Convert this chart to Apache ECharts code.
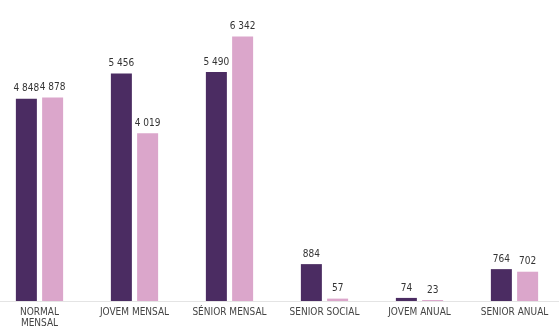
<!DOCTYPE html>
<html><head><meta charset="utf-8">
<script src="https://cdn.jsdelivr.net/npm/echarts@6/dist/echarts.min.js"></script>
<style>html,body{margin:0;padding:0;background:#fff;overflow:hidden}#c{width:570px;height:336px;position:absolute;left:-8px;top:0}</style>
</head><body><div id="c"></div>
<script>
const categories = ['NORMAL\nMENSAL','JOVEM MENSAL','SÉNIOR MENSAL','SENIOR SOCIAL','JOVEM ANUAL','SENIOR ANUAL'];
const seriesA = [4848, 5456, 5490, 884, 74, 764];
const seriesB = [4878, 4019, 6342, 57, 23, 702];
const fmt = v => String(v).replace(/\B(?=(\d{3})+(?!\d))/g, ' ');
const font = '"Liberation Sans Narrow","DejaVu Sans Condensed",sans-serif';
const chart = echarts.init(document.getElementById('c'));
const lbl = {show:true, position:'top', distance:5, color:'#333', fontSize:10, fontFamily:font, formatter:p=>fmt(p.value)};
chart.setOption({
  animation:false,
  grid:{left:0, right:0, top:9, bottom:35, containLabel:false},
  xAxis:{type:'category', data:categories,
    axisLine:{show:true, lineStyle:{color:'#e4e4e4'}}, axisTick:{show:false},
    axisLabel:{color:'#444', fontSize:10, fontFamily:font, margin:6, lineHeight:11, interval:0}},
  yAxis:{type:'value', min:0, max:7000, show:false, splitLine:{show:false}},
  series:[
    {type:'bar', data:seriesA, barWidth:21, barGap:'25%', itemStyle:{color:'#4b2c62'}, label:lbl},
    {type:'bar', data:seriesB, barWidth:21, itemStyle:{color:'#dba6cb'}, label:lbl}
  ]
});
</script></body></html>
